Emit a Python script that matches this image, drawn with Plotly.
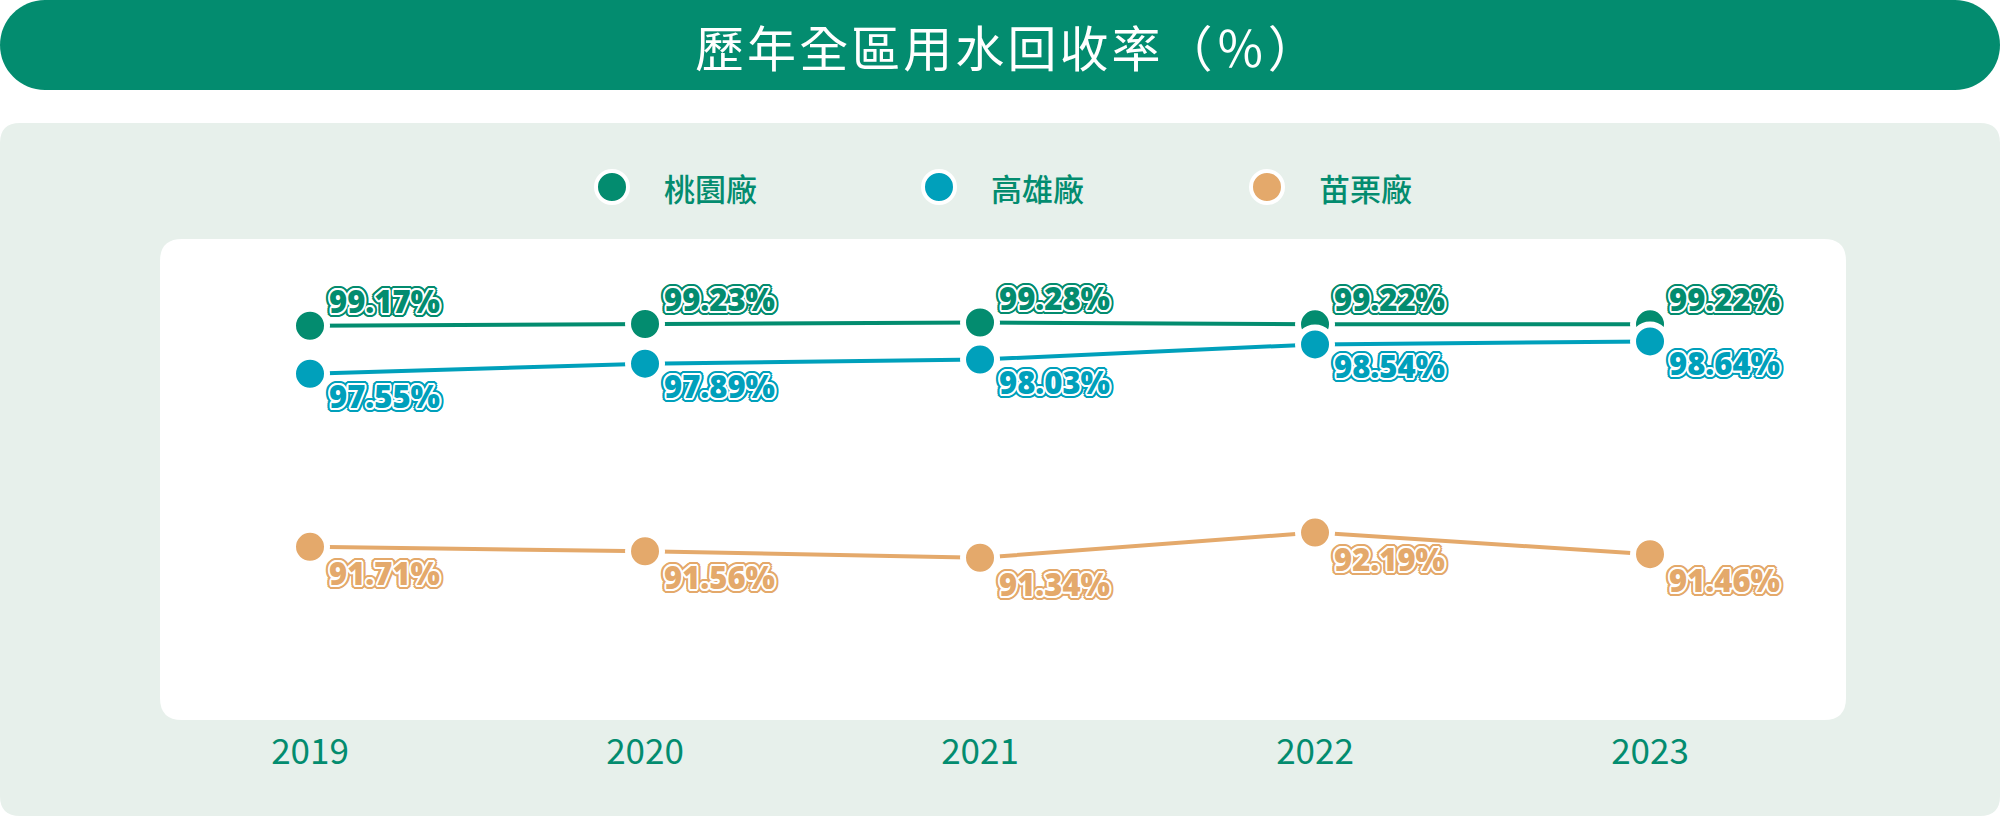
import math
import plotly.graph_objects as go

# ---------------- data ----------------
years = [2019, 2020, 2021, 2022, 2023]
year_labels = ["2019", "2020", "2021", "2022", "2023"]
taoyuan = [99.17, 99.23, 99.28, 99.22, 99.22]
kaohsiung = [97.55, 97.89, 98.03, 98.54, 98.64]
miaoli = [91.71, 91.56, 91.34, 92.19, 91.46]
series_names = ["桃園廠", "高雄廠", "苗栗廠"]
title_text = "歷年全區用水回收率（％）"

# ---------------- style ----------------
GREEN = "#038c6f"
BLUE = "#00a0bb"
ORANGE = "#e4a96b"
PANEL = "#e7f0eb"
W, H = 2000, 817
L, R, T, B = 160, 1846, 239, 720  # plot area (white box) in pixels
PW, PH = R - L, B - T


def px(x):
    return (x - L) / PW


def py(y):
    return (B - y) / PH


def rrect(x0, y0, x1, y1, r):
    pts = [
        f"M{px(x0 + r)},{py(y0)}",
        f"L{px(x1 - r)},{py(y0)}",
        f"Q{px(x1)},{py(y0)} {px(x1)},{py(y0 + r)}",
        f"L{px(x1)},{py(y1 - r)}",
        f"Q{px(x1)},{py(y1)} {px(x1 - r)},{py(y1)}",
        f"L{px(x0 + r)},{py(y1)}",
        f"Q{px(x0)},{py(y1)} {px(x0)},{py(y1 - r)}",
        f"L{px(x0)},{py(y0 + r)}",
        f"Q{px(x0)},{py(y0)} {px(x0 + r)},{py(y0)}",
        "Z",
    ]
    return " ".join(pts)


def pill(x0, y0, x1, y1):
    r = (y1 - y0) / 2
    ym = (y0 + y1) / 2
    k = 0.5523 * r
    return (
        f"M{px(x0 + r)},{py(y0)} L{px(x1 - r)},{py(y0)} "
        f"C{px(x1 - r + k)},{py(y0)} {px(x1)},{py(ym - k)} {px(x1)},{py(ym)} "
        f"C{px(x1)},{py(ym + k)} {px(x1 - r + k)},{py(y1)} {px(x1 - r)},{py(y1)} "
        f"L{px(x0 + r)},{py(y1)} "
        f"C{px(x0 + r - k)},{py(y1)} {px(x0)},{py(ym + k)} {px(x0)},{py(ym)} "
        f"C{px(x0)},{py(ym - k)} {px(x0 + r - k)},{py(y0)} {px(x0 + r)},{py(y0)} Z"
    )


def outline_shadow(color):
    parts = []
    for i in range(12):
        a = 2 * math.pi * i / 12
        parts.append(f"{1.8*math.cos(a):.2f}px {1.8*math.sin(a):.2f}px 0 #ffffff")
    for rad in (2.8, 4.0):
        for i in range(16):
            a = 2 * math.pi * i / 16
            parts.append(f"{rad*math.cos(a):.2f}px {rad*math.sin(a):.2f}px 0 {color}")
    return ", ".join(parts)


fig = go.Figure()

colors = [GREEN, BLUE, ORANGE]
all_series = [taoyuan, kaohsiung, miaoli]
for name, vals, c in zip(series_names, all_series, colors):
    fig.add_trace(go.Scatter(
        x=years, y=vals, name=name, mode="lines+markers",
        line=dict(color=c, width=4),
        marker=dict(size=34, color=c, line=dict(color="white", width=6)),
        cliponaxis=False, showlegend=False, hoverinfo="skip",
    ))

shapes = [
    dict(type="path", xref="paper", yref="paper", path=pill(0, 0, W, 90),
         fillcolor=GREEN, line=dict(width=0), layer="below"),
    dict(type="path", xref="paper", yref="paper", path=rrect(0, 123, W, 816, 20),
         fillcolor=PANEL, line=dict(width=0), layer="below"),
    dict(type="path", xref="paper", yref="paper", path=rrect(L, T, R, B, 22),
         fillcolor="white", line=dict(width=0), layer="below"),
]

spaced_title = "\u200a".join(title_text)
annotations = [
    dict(text=spaced_title, x=px(1006), y=py(45), xref="paper", yref="paper",
         showarrow=False, xanchor="center", yanchor="middle",
         font=dict(family="Noto Sans CJK TC", size=49, color="white")),
]

legend_x = [612, 939, 1267]
for name, c, lx in zip(series_names, colors, legend_x):
    shapes.append(dict(type="circle", xref="paper", yref="paper",
                       xsizemode="pixel", ysizemode="pixel",
                       xanchor=px(lx), yanchor=py(187),
                       x0=-16, x1=16, y0=-16, y1=16,
                       fillcolor=c, line=dict(color="white", width=4)))
    annotations.append(dict(text=name, x=px(lx + 50), y=py(187), xref="paper", yref="paper",
                            showarrow=False, xanchor="left", yanchor="middle",
                            font=dict(family="Noto Sans CJK TC", size=31, color=GREEN, weight=500)))

label_shift = {GREEN: 25, BLUE: -22, ORANGE: -26}
for vals, c in zip(all_series, colors):
    sh = outline_shadow(c)
    for xv, v in zip(years, vals):
        annotations.append(dict(
            text=f"{v:.2f}%", x=xv, y=v, xref="x", yref="y",
            showarrow=False, xanchor="left", yanchor="middle",
            xshift=17, yshift=label_shift[c],
            font=dict(family="Open Sans", size=31, color=c, weight=800, shadow=sh),
        ))

fig.update_layout(
    width=W, height=H,
    margin=dict(l=L, r=W - R, t=T, b=H - B),
    paper_bgcolor="white", plot_bgcolor="rgba(0,0,0,0)",
    shapes=shapes, annotations=annotations, showlegend=False,
    xaxis=dict(range=[2018.5522, 2023.585], tickvals=years, ticktext=year_labels,
               showgrid=False, zeroline=False, showline=False, ticks="",
               tickfont=dict(family="Noto Sans CJK TC", size=35, color=GREEN),
               ticklabelstandoff=8, fixedrange=True),
    yaxis=dict(range=[85.865, 102.098], visible=False, fixedrange=True),
)

fig.write_html("out.html", config={"displayModeBar": False},
               post_script="document.body.style.margin='0';document.body.style.overflow='hidden';")
